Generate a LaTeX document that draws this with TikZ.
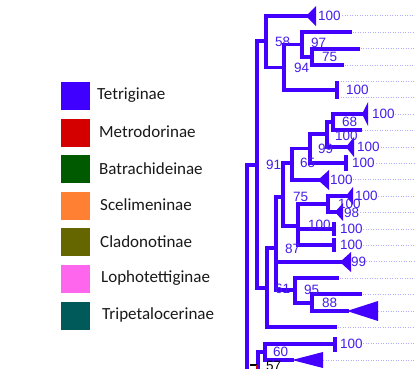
\documentclass[tikz,border=0pt]{standalone}
\usepackage{fontspec}
\setmainfont{Liberation Sans}
\newfontfamily\legfont{Carlito}
\definecolor{br}{RGB}{68,0,255}
\definecolor{lab}{RGB}{70,30,235}
\definecolor{dotc}{RGB}{175,175,255}
\definecolor{cTet}{RGB}{63,0,255}
\definecolor{cMet}{RGB}{212,0,0}
\definecolor{cBat}{RGB}{0,90,0}
\definecolor{cSce}{RGB}{255,127,51}
\definecolor{cCla}{RGB}{102,102,0}
\definecolor{cLop}{RGB}{255,102,238}
\definecolor{cTri}{RGB}{0,90,90}
\tikzset{
  branch/.style={draw=br,line width=3.3pt,line cap=rect},
  tri/.style={fill=br},
  barline/.style={draw=br,line width=3.3pt},
  guide/.style={draw=dotc,line width=0.6pt,dash pattern=on 1pt off 1.5pt},
  lbl/.style={anchor=west,inner sep=0pt,text=lab,font=\fontsize{13.5}{13.5}\selectfont},
  legbox/.style={fill=#1,minimum width=29pt,minimum height=28pt,inner sep=0pt},
  legtext/.style={anchor=west,inner sep=0pt,text=black!90,font=\legfont\fontsize{17}{17}\selectfont}
}
\begin{document}
\begin{tikzpicture}[x=1pt,y=-1pt]
\clip (0,0) rectangle (415,368);
\fill[white] (0,0) rectangle (415,368);
% guide lines
\foreach \k/\s in {0/342,1/350,2/358,3/342,4/338,5/338,6/395,7/362,8/378,9/376,10/350,11/378,12/360,13/363,14/363,15/366,16/337,17/360,18/378,19/335,20/363,21/323}{
  \draw[guide] (\s,{15.7+16.4*\k}) -- (415,{15.7+16.4*\k});
}
% internal nodes
\coordinate (root) at (247,380);
\coordinate (n91) at (257,165);
\coordinate (n58) at (266,41);
\coordinate (n94) at (284,67.5);
\coordinate (n97) at (302,44.5);
\coordinate (n75b) at (312,57);
\coordinate (n61) at (267,288);
\coordinate (n87) at (276,248);
\coordinate (n75) at (283,197);
\coordinate (n65) at (292,163);
\coordinate (n99) at (310,148.5);
\coordinate (n100a) at (327,134);
\coordinate (n68) at (333,122);
\coordinate (nX) at (298,226);
\coordinate (nbox) at (328,204);
\coordinate (n95) at (295,290);
\coordinate (n88) at (312,303);
\coordinate (nB) at (258,380);
\coordinate (n60) at (265,352);
% tips
\coordinate (t0) at (306,16);
\coordinate (t1) at (350,32);
\coordinate (t2) at (358,49);
\coordinate (t3) at (342,65);
\coordinate (t4) at (337,90);
\coordinate (t6) at (362,114);
\coordinate (t7) at (360,130);
\coordinate (t8) at (346,147);
\coordinate (t9) at (346,163);
\coordinate (t10) at (318,180);
\coordinate (t11) at (346,196);
\coordinate (t12) at (335,212);
\coordinate (t13) at (334,229);
\coordinate (t14) at (334,245);
\coordinate (t15) at (340,262);
\coordinate (t16) at (337,278);
\coordinate (t17) at (360,294);
\coordinate (t18) at (347,311);
\coordinate (t19) at (335,327);
\coordinate (t20) at (335,344);
\coordinate (t21) at (292,360);
% branches
\foreach \p/\c in {root/n91,root/nB,n91/n58,n91/n61,n58/t0,n58/n94,n94/n97,n94/t4,n97/t1,n97/n75b,n75b/t2,n75b/t3,
  n61/n87,n61/t19,n87/n75,n87/t15,n87/n95,n75/n65,n75/nX,n65/n99,n65/t10,n99/n100a,n99/t9,n100a/n68,n100a/t8,
  n68/t6,n68/t7,nX/nbox,nX/t13,nX/t14,nbox/t11,nbox/t12,n95/t16,n95/n88,n88/t17,n88/t18,nB/n60,n60/t20,n60/t21}{
  \draw[branch] (\p) |- (\c);
}
% collapsed clades: triangles
\foreach \t/\b/\h in {t0/316/10,t6/368/12,t8/354/10,t10/329/10,t11/353/9,t12/343/9,t15/351/10,t18/378/10,t21/323/8}{
  \fill[tri] (\t) -- ([yshift=-\h pt]\b pt,0 |- \t) -- ([yshift=\h pt]\b pt,0 |- \t) -- cycle;
}
% collapsed clades: bars
\foreach \t/\h in {t4/9,t9/8,t13/7,t14/7,t20/7.5}{
  \draw[barline] ([yshift=-\h pt]\t) -- ([yshift=\h pt]\t);
}
% tip labels
\node[lbl] (l0) at (318,16) {100};
\node[lbl] (l4) at (346,90) {100};
\node[lbl] (l6) at (372,114) {100};
\node[lbl] (l8) at (357,147) {100};
\node[lbl] (l9) at (352,163) {100};
\node[lbl] (l10) at (330,180) {100};
\node[lbl] (l11) at (355,196) {100};
\node[lbl] (l12) at (344,213) {98};
\node[lbl] (l13) at (340,229) {100};
\node[lbl] (l14) at (340,245) {100};
\node[lbl] (l15) at (351,262) {99};
\node[lbl] (l20) at (340,344) {100};
% node labels
\node[lbl] (s58) at (275,42) {58};
\node[lbl] (s97) at (311,43) {97};
\node[lbl] (s75b) at (322,57) {75};
\node[lbl] (s94) at (294,68) {94};
\node[lbl] (s68) at (342,122) {68};
\node[lbl] (s100a) at (335,136) {100};
\node[lbl] (s99) at (318,149) {99};
\node[lbl] (s65) at (300,163) {65};
\node[lbl] (s91) at (266,165) {91};
\node[lbl] (s75) at (293,197) {75};
\node[lbl] (sbox) at (338,204) {100};
\node[lbl] (sX) at (308,225) {100};
\node[lbl] (s87) at (285,249) {87};
\node[lbl] (s61) at (275,289) {61};
\node[lbl] (s95) at (304,290) {95};
\node[lbl] (s88) at (322,303) {88};
\node[lbl] (s60) at (273,352) {60};
\node[lbl,text=black] (s57) at (266,366) {57};
\draw[black,line width=1.5pt] (250,365) -- (257,365);
\draw[cMet,line width=1.5pt] (257,365) -- (257,369);
% legend
\foreach \i/\c/\n/\dx in {0/cTet/Tetriginae/97,1/cMet/Metrodorinae/99,2/cBat/Batrachideinae/99,3/cSce/Scelimeninae/100,4/cCla/Cladonotinae/100,5/cLop/Lophotettiginae/101,6/cTri/Tripetalocerinae/102}{
  \node[legbox=\c] (box\i) at (75.5,{96+36.6*\i}) {};
  \node[legtext] (txt\i) at (\dx,{95+36.6*\i}) {\n};
}
\end{tikzpicture}
\end{document}
